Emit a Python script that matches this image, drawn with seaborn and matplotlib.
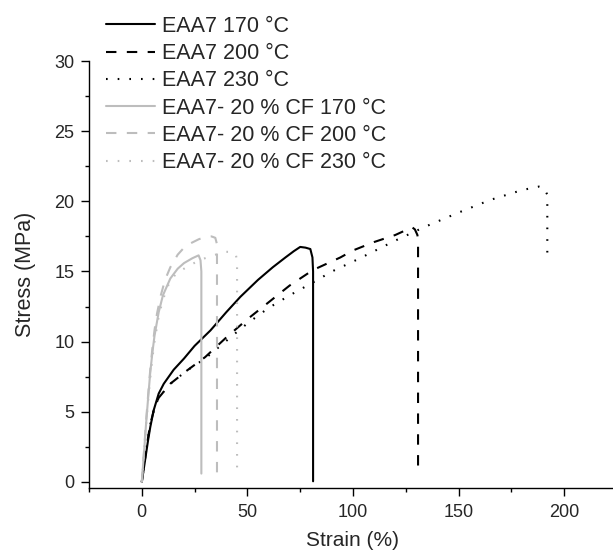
import numpy as np
import pandas as pd
import matplotlib
matplotlib.use("Agg")
import matplotlib.pyplot as plt
import seaborn as sns

# stress-strain curves
strain_170 = [0, 1, 2, 3, 4, 5.6, 8, 10.4, 15.1, 20, 25, 32.5, 40, 46.7, 55, 62, 68, 72, 75, 77.5, 79.8, 80.8, 81.1, 81.1]
stress_170 = [0, 1.0, 2.0, 3.0, 3.9, 5.1, 6.3, 7.0, 8.0, 8.8, 9.7, 10.8, 12.1, 13.2, 14.4, 15.3, 16.0, 16.45, 16.75, 16.7, 16.6, 16.0, 15.0, 0.05]

strain_200 = [0, 1, 2, 3, 4, 6, 8, 13.5, 21, 30, 40, 50, 60, 70, 81, 94, 100, 110, 120, 128, 129.3, 130.5, 130.8, 130.8]
stress_200 = [0, 1.1, 2.2, 3.2, 4.1, 5.3, 6.0, 7.0, 7.9, 8.9, 10.3, 11.6, 12.8, 14.0, 15.1, 16.0, 16.5, 17.1, 17.6, 18.15, 18.0, 17.6, 17.2, 0.6]

strain_230 = [0, 1, 2, 3, 4, 6, 8, 13.5, 21, 30, 36.4, 43.5, 50, 60, 70, 82, 90, 102.7, 120, 134.3, 150, 165, 180, 188, 190.5, 191.9, 192, 192]
stress_230 = [0, 1.1, 2.2, 3.2, 4.1, 5.3, 6.0, 7.0, 7.9, 8.8, 9.6, 10.5, 11.3, 12.4, 13.3, 14.3, 15.0, 15.9, 17.2, 18.2, 19.2, 20.1, 20.8, 21.05, 20.95, 20.5, 20.0, 16.1]

strain_cf_170 = [0, 1, 2, 3, 4, 5, 6, 8, 10, 13.5, 17, 20, 24, 26.9, 27.8, 28.2, 28.2]
stress_cf_170 = [0, 2.0, 4.1, 6.0, 7.8, 9.2, 10.4, 12.1, 13.3, 14.5, 15.2, 15.6, 15.95, 16.15, 15.8, 15.0, 0.6]

strain_cf_200 = [0, 1, 2, 3, 4, 5, 6, 7.2, 9, 11, 13.5, 17, 20, 23, 27, 30, 33, 34.8, 35.5, 35.6, 35.6]
stress_cf_200 = [0, 2.1, 4.3, 6.2, 8.0, 9.5, 10.8, 12.0, 13.3, 14.4, 15.3, 16.2, 16.7, 17.0, 17.3, 17.45, 17.5, 17.4, 17.0, 16.5, 0.0]

strain_cf_230 = [0, 1, 2, 3, 4, 5, 6, 8, 10, 13, 16, 21, 26, 30, 35, 40, 43, 44.5, 45.1, 45.1]
stress_cf_230 = [0, 2.0, 4.0, 5.8, 7.4, 8.8, 10.0, 11.8, 13.0, 14.2, 14.8, 15.3, 15.7, 15.95, 16.2, 16.4, 16.4, 16.2, 15.8, 0.4]

labels = ["EAA7 170 °C", "EAA7 200 °C", "EAA7 230 °C",
          "EAA7- 20 % CF 170 °C", "EAA7- 20 % CF 200 °C", "EAA7- 20 % CF 230 °C"]
curves = [(strain_170, stress_170), (strain_200, stress_200), (strain_230, stress_230),
          (strain_cf_170, stress_cf_170), (strain_cf_200, stress_cf_200), (strain_cf_230, stress_cf_230)]

black = "#000000"
grey = "#bdbdbd"
colors = [black, black, black, grey, grey, grey]
styles = ["-", (0, (5, 5)), (0, (0.8, 4.8)), "-", (0, (5, 5)), (0, (0.8, 4.8))]

sns.set_style("ticks")
plt.rcParams["font.family"] = ["Liberation Sans", "DejaVu Sans"]

fig = plt.figure(figsize=(6.13, 5.54), dpi=100)
ax = fig.add_axes([89 / 613, 1 - 487.6 / 554, 528 / 613, 426.6 / 554])

for (x, y), lab, c, ls in zip(curves, labels, colors, styles):
    df = pd.DataFrame({"strain": x, "stress": y})
    sns.lineplot(data=df, x="strain", y="stress", sort=False, estimator=None,
                 color=c, linestyle=ls, linewidth=1.5, label=lab, ax=ax)

ax.set_xlim(-25, 225)
ax.set_ylim(-0.4, 30)
ax.set_xticks([0, 50, 100, 150, 200])
ax.set_xticks(np.arange(-25, 226, 25), minor=True)
ax.set_yticks([0, 5, 10, 15, 20, 25, 30])
ax.set_yticks(np.arange(0, 30.1, 2.5), minor=True)
ax.tick_params(which="major", direction="out", length=5.5, width=1, labelsize=13, color="black")
ax.tick_params(axis="x", which="major", pad=6.5)
ax.tick_params(axis="y", which="major", pad=5)
ax.tick_params(which="minor", direction="out", length=3, width=1, color="black")
ax.set_xlabel("Strain (%)", fontsize=15, labelpad=7)
ax.set_ylabel("Stress (MPa)", fontsize=15.5, labelpad=13)
sns.despine(ax=ax)
for s in ["left", "bottom"]:
    ax.spines[s].set_linewidth(1)
    ax.spines[s].set_color("black")

ax.get_legend().remove()
handles, labs = ax.get_legend_handles_labels()
fig.legend(handles, labs, loc="upper left", bbox_to_anchor=(106 / 613, 1 - 16 / 554),
           frameon=False, fontsize=15.5, borderpad=0, borderaxespad=0,
           handlelength=2.28, handletextpad=0.33, labelspacing=0.29)

fig.savefig("out.png", dpi=100)
